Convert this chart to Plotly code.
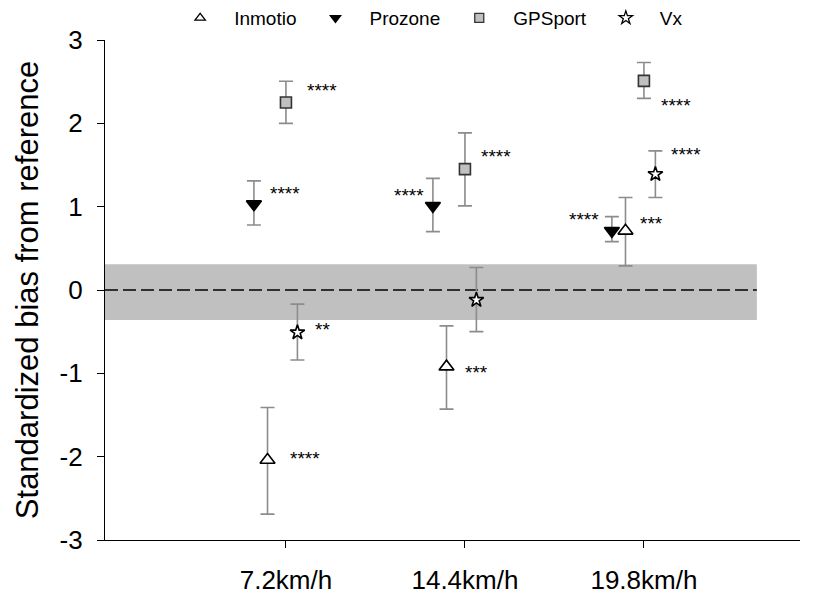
import plotly.graph_objects as go

# ---------------- data ----------------
categories = ["7.2km/h", "14.4km/h", "19.8km/h"]

inmotio = [-2.04, -0.92, 0.71]
inmotio_hi = [-1.41, -0.43, 1.11]
inmotio_lo = [-2.69, -1.43, 0.29]
inmotio_sig = ["****", "***", "***"]

prozone = [1.03, 1.01, 0.71]
prozone_hi = [1.31, 1.34, 0.88]
prozone_lo = [0.78, 0.70, 0.58]
prozone_sig = ["****", "****", "****"]

gpsport = [2.25, 1.45, 2.51]
gpsport_hi = [2.505, 1.885, 2.73]
gpsport_lo = [2.00, 1.01, 2.30]
gpsport_sig = ["****", "****", "****"]

vx = [-0.51, -0.12, 1.39]
vx_hi = [-0.17, 0.27, 1.67]
vx_lo = [-0.84, -0.50, 1.11]
vx_sig = ["**", "", "****"]

band_hi = 0.31
band_lo = -0.36

y_ticks = [-3, -2, -1, 0, 1, 2, 3]
y_tick_text = ["-3", "-2", "-1", "0", "1", "2", "3"]

# ---------------- styling / placement ----------------
FONT = "Arial, Liberation Sans, sans-serif"
pos = [1, 2, 3]
series = [
    dict(name="Inmotio", y=inmotio, hi=inmotio_hi, lo=inmotio_lo, sig=inmotio_sig,
         dx=-0.103, symbol="triangle-up", size=13, fill="white", line="black",
         sig_y=[-1.96, -0.93, 0.86], sig_shift=[20, 16, 13], sig_side=["r", "r", "r"]),
    dict(name="Prozone", y=prozone, hi=prozone_hi, lo=prozone_lo, sig=prozone_sig,
         dx=-0.179, symbol="triangle-down", size=13, fill="black", line="black",
         sig_y=[1.22, 1.20, 0.91], sig_shift=[14, -7, -11], sig_side=["r", "l", "l"]),
    dict(name="GPSport", y=gpsport, hi=gpsport_hi, lo=gpsport_lo, sig=gpsport_sig,
         dx=0.0, symbol="square", size=11, fill="#c0c0c0", line="#333333",
         sig_y=[2.46, 1.66, 2.28], sig_shift=[19, 14, 15], sig_side=["r", "r", "r"]),
    dict(name="Vx", y=vx, hi=vx_hi, lo=vx_lo, sig=vx_sig,
         dx=0.064, symbol="star", size=11, fill="white", line="black",
         sig_y=[-0.41, 0, 1.69], sig_shift=[16, 0, 14], sig_side=["r", "r", "r"]),
]

X0, X1 = -0.011, 3.872
BAND_END = 3.631

fig = go.Figure()

annotations = []
for s in series:
    xs = [p + s["dx"] for p in pos]
    plus = [h - v for h, v in zip(s["hi"], s["y"])]
    minus = [v - l for v, l in zip(s["y"], s["lo"])]
    fig.add_trace(go.Scatter(
        x=xs, y=s["y"], mode="markers", name=s["name"], showlegend=False,
        marker=dict(symbol=s["symbol"], size=s["size"], color=s["fill"],
                    line=dict(color=s["line"], width=1.6)),
        error_y=dict(type="data", symmetric=False, array=plus, arrayminus=minus,
                     color="#8c8c8c", thickness=1.6, width=7),
    ))
    for x, lab, ly, sh, side in zip(xs, s["sig"], s["sig_y"], s["sig_shift"], s["sig_side"]):
        if not lab:
            continue
        annotations.append(dict(
            x=x, y=ly, xref="x", yref="y", text=lab, showarrow=False,
            xanchor="left" if side == "r" else "right", yanchor="middle",
            xshift=sh, yshift=-5,
            font=dict(family=FONT, size=19, color="black"),
        ))

# legend-only entries with smaller symbols
for s in series:
    fig.add_trace(go.Scatter(
        x=[None], y=[None], mode="markers", name=s["name"], showlegend=True,
        marker=dict(symbol=s["symbol"], size=9 if s["symbol"] != "star" else 10,
                    color=s["fill"], line=dict(color=s["line"], width=1.3)),
    ))

# y-axis title as annotation
annotations.append(dict(
    x=-0.112, y=0.5, xref="paper", yref="paper", text="Standardized bias from reference",
    textangle=-90, showarrow=False, xanchor="center", yanchor="middle",
    font=dict(family=FONT, size=31, color="black"),
))

shapes = [
    dict(type="rect", xref="paper", yref="y", x0=0, x1=(BAND_END - X0) / (X1 - X0),
         y0=band_lo, y1=band_hi, fillcolor="#c0c0c0", line=dict(width=0), layer="below"),
    dict(type="line", xref="paper", yref="y", x0=0, x1=(BAND_END - X0) / (X1 - X0),
         y0=0, y1=0, line=dict(color="black", width=1.3, dash="13px,5px"), layer="below"),
]

fig.update_layout(
    width=815, height=594,
    margin=dict(l=105, r=15, t=40, b=54, autoexpand=False),
    paper_bgcolor="white", plot_bgcolor="white",
    font=dict(family=FONT, color="black"),
    showlegend=True,
    legend=dict(orientation="h", x=0.088, xanchor="left", y=1.082, yanchor="top",
                font=dict(family=FONT, size=19, color="black"), itemwidth=58,
                bgcolor="rgba(0,0,0,0)"),
    annotations=annotations,
    shapes=shapes,
    xaxis=dict(range=[X0, X1], tickvals=pos, ticktext=categories, showgrid=False,
               zeroline=False, showline=True, linecolor="black", linewidth=1.3,
               ticks="outside", ticklen=7, tickwidth=1.3, tickcolor="black",
               ticklabelstandoff=10, automargin=False,
               tickfont=dict(family=FONT, size=26, color="black")),
    yaxis=dict(range=[-3, 3], tickvals=y_ticks, ticktext=y_tick_text, showgrid=False,
               zeroline=False, showline=True, linecolor="black", linewidth=1.3,
               ticks="outside", ticklen=7, tickwidth=1.3, tickcolor="black",
               ticklabelstandoff=9, automargin=False,
               tickfont=dict(family=FONT, size=26, color="black")),
)

fig.write_html("out.html")
